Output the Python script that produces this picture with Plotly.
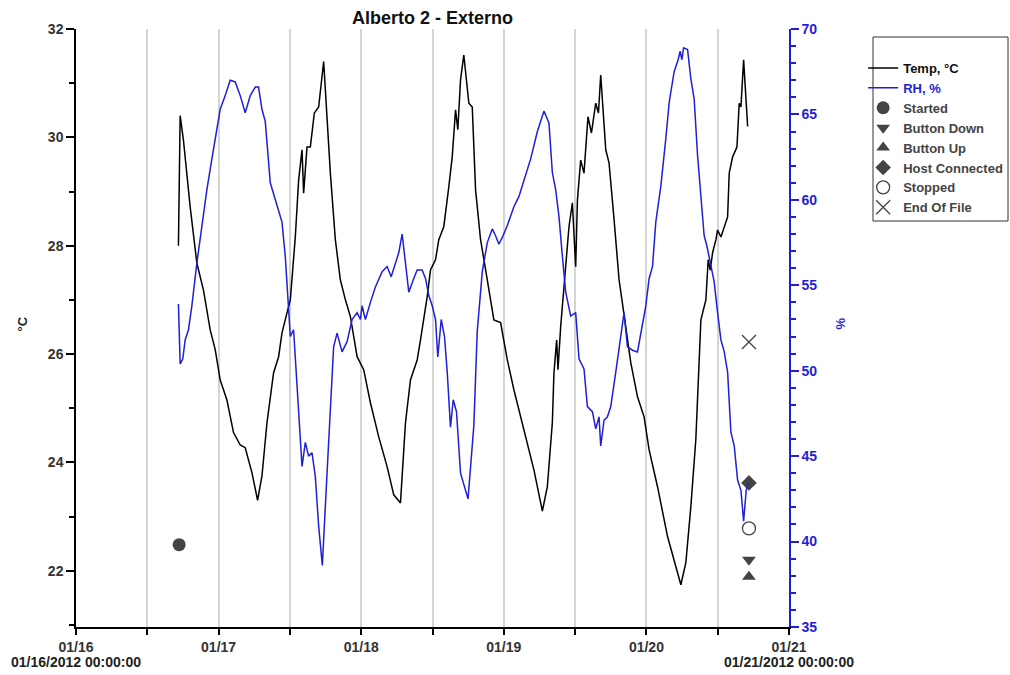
import pandas as pd
import plotly.graph_objects as go

# ---- data (hours after 01/16/2012 00:00) ----
temp_hours = [17.24, 17.53, 18.08, 19.21, 20.34, 21.45, 22.58, 23.43, 24.27, 25.40, 26.51, 27.64, 28.48,
              29.61, 30.56, 31.30, 32.14, 33.25, 34.10, 34.67, 35.51, 36.07, 36.91, 37.47, 38.04, 38.31,
              38.88, 39.44, 40.11, 40.84, 41.68, 42.25, 42.81, 43.65, 44.49, 45.34, 46.18, 47.31, 48.42,
              49.55, 50.95, 52.36, 53.48, 54.61, 55.45, 56.29, 57.42, 57.98, 59.11, 59.66, 60.51, 61.06,
              61.90, 62.75, 63.32, 63.88, 64.26, 64.72, 65.27, 66.12, 66.69, 67.25, 68.09, 69.22, 70.33,
              71.46, 72.59, 73.70, 75.39, 77.07, 78.49, 79.33, 80.17, 80.44, 80.90, 81.12, 81.57, 82.42,
              82.97, 83.54, 84.10, 84.39, 84.94, 85.50, 86.17, 86.75, 87.47, 87.93, 88.31, 89.16, 89.71,
              90.56, 91.40, 92.53, 93.37, 94.50, 95.61, 96.46, 97.87, 99.56, 100.67, 101.51, 101.80,
              102.64, 103.48, 104.32, 105.17, 106.01, 106.40, 106.74, 107.14, 107.70, 107.98, 108.54,
              109.10, 109.67, 109.94, 110.51, 111.24, 111.62, 111.91, 112.36, 113.04]
temp_values = [28.0, 30.4, 29.95, 28.72, 27.68, 27.18, 26.45, 26.08, 25.52, 25.15, 24.55, 24.32, 24.27,
               23.81, 23.30, 23.75, 24.73, 25.65, 25.95, 26.39, 26.76, 27.0, 28.16, 29.21, 29.77, 28.97,
               29.82, 29.82, 30.45, 30.56, 31.40, 30.27, 29.34, 28.11, 27.37, 27.0, 26.69, 25.95, 25.71,
               25.10, 24.47, 23.92, 23.40, 23.25, 24.73, 25.52, 25.89, 26.26, 27.06, 27.55, 27.74, 28.11,
               28.35, 29.09, 29.64, 30.51, 30.14, 31.06, 31.52, 30.63, 30.56, 29.03, 28.11, 27.37, 26.63,
               26.58, 25.89, 25.34, 24.60, 23.86, 23.10, 23.55, 24.73, 25.65, 26.26, 25.71, 26.50, 27.61,
               28.35, 28.79, 27.61, 28.84, 29.58, 29.34, 30.38, 30.08, 30.63, 30.45, 31.15, 29.77, 29.53,
               28.48, 27.37, 26.50, 25.84, 25.21, 24.84, 24.23, 23.55, 22.63, 22.20, 21.85, 21.74,
               22.15, 23.18, 24.42, 26.63, 27.0, 27.74, 27.55, 27.87, 28.11, 28.29, 28.16,
               28.35, 28.53, 29.34, 29.64, 29.82, 30.63, 30.56, 31.43, 30.20]

rh_hours = [17.24, 17.53, 17.98, 18.37, 18.93, 19.50, 20.34, 21.19, 22.03, 22.87, 23.71, 24.27, 25.11,
            25.95, 26.80, 27.64, 28.48, 29.33, 30.17, 30.72, 31.30, 31.85, 32.70, 33.83, 34.67, 35.22,
            35.78, 36.07, 36.62, 37.08, 37.47, 38.04, 38.60, 39.15, 39.72, 40.28, 40.84, 41.46, 42.25,
            42.81, 43.36, 43.94, 44.78, 45.62, 46.47, 47.31, 47.87, 48.15, 48.71, 49.55, 50.39, 51.52,
            52.36, 53.04, 53.76, 54.32, 54.89, 55.45, 56.01, 56.85, 57.42, 58.26, 58.82, 59.38, 59.95,
            60.51, 60.89, 61.47, 62.02, 62.48, 63.03, 63.49, 64.04, 64.72, 65.39, 65.98, 66.96, 67.53,
            68.38, 69.22, 70.06, 70.62, 71.17, 71.75, 72.59, 73.70, 74.55, 75.39, 76.52, 77.65, 78.76,
            79.60, 80.17, 80.73, 81.29, 81.86, 82.42, 83.26, 84.10, 84.66, 85.50, 86.07, 86.91, 87.47,
            88.03, 88.31, 88.87, 89.44, 90.00, 90.84, 91.68, 92.24, 92.81, 93.66, 94.50, 95.05, 95.90,
            96.46, 97.03, 97.58, 98.43, 99.27, 99.83, 100.67, 101.34, 101.68, 101.97, 102.25, 102.93,
            103.48, 104.04, 104.61, 105.17, 105.72, 106.18, 106.85, 107.41, 107.98, 108.54, 109.10,
            109.67, 110.22, 110.78, 111.35, 111.91, 112.36, 112.80, 113.09]
rh_values = [53.9, 50.4, 50.7, 51.8, 52.4, 53.8, 56.3, 58.5, 60.6, 62.4, 64.0, 65.3, 66.1,
             67.0, 66.9, 66.1, 65.1, 66.1, 66.6, 66.6, 65.3, 64.6, 61.0, 59.6, 58.7, 56.7,
             53.8, 52.0, 52.4, 49.7, 47.9, 44.4, 45.8, 45.0, 45.2, 43.8, 40.9, 38.6, 44.0,
             47.9, 51.4, 52.2, 51.1, 51.7, 53.0, 53.4, 53.0, 53.8, 53.0, 54.0, 54.9, 55.8,
             56.1, 55.5, 56.3, 56.9, 58.0, 56.3, 54.6, 55.4, 55.9, 55.9, 55.4, 54.4, 53.8,
             53.0, 50.8, 53.0, 52.0, 49.9, 46.7, 48.3, 47.6, 44.0, 43.2, 42.5, 46.8, 52.3,
             55.8, 57.5, 58.3, 57.9, 57.4, 57.8, 58.5, 59.6, 60.2, 61.2, 62.4, 64.0, 65.2,
             64.5, 61.6, 60.6, 59.0, 56.7, 54.6, 53.2, 53.4, 50.7, 50.1, 47.9, 47.6, 46.6,
             47.3, 45.6, 47.1, 47.3, 47.9, 49.9, 52.2, 53.4, 51.4, 51.2, 51.1, 52.2, 53.8,
             55.4, 56.1, 58.7, 60.8, 63.6, 65.7, 67.5, 68.2, 68.7, 68.2, 68.9, 68.8,
             67.1, 65.9, 62.6, 60.0, 57.9, 57.3, 56.1, 55.2, 53.4, 51.8, 51.1,
             49.9, 46.4, 45.6, 43.6, 43.0, 41.2, 43.0, 43.4]

event_names = ["Started", "Button Down", "Button Up", "Host Connected", "Stopped", "End Of File"]
event_hours = [17.36, 113.26, 113.26, 113.26, 113.26, 113.26]
event_temps = [22.48, 22.20, 21.89, 23.62, 22.78, 26.22]
event_symbols = ["circle", "triangle-down", "triangle-up", "diamond", "circle-open", "x-thin-open"]

x_tick_labels_bottom = ["01/16/2012 00:00:00", "01/21/2012 00:00:00"]

base = pd.Timestamp("2012-01-16 00:00:00")
def to_time(hours):
    return [base + pd.Timedelta(hours=h) for h in hours]

BLUE = "#1f1fd6"
GRAY = "#444444"
FONT = "Liberation Sans, Arial, sans-serif"

fig = go.Figure()
fig.add_trace(go.Scatter(x=to_time(temp_hours), y=temp_values, mode="lines",
                         line=dict(color="#000000", width=1.5),
                         name="<span style='color:#111111'>Temp, °C</span>", yaxis="y"))
fig.add_trace(go.Scatter(x=to_time(rh_hours), y=rh_values, mode="lines",
                         line=dict(color=BLUE, width=1.5),
                         name="<span style='color:%s'>RH, %%</span>" % BLUE, yaxis="y2"))
for nm, h, t, sym in zip(event_names, event_hours, event_temps, event_symbols):
    open_sym = sym.endswith("open")
    fig.add_trace(go.Scatter(
        x=to_time([h]), y=[t], mode="markers", name=nm, yaxis="y",
        marker=dict(symbol=sym, size=13 if sym in ("circle", "circle-open") else (14 if sym.startswith("x") else 12),
                    color=GRAY,
                    line=dict(color=GRAY, width=1.3 if open_sym else 0))))

fig.update_layout(
    width=1010, height=675,
    margin=dict(l=76, r=221, t=29, b=48, autoexpand=False),
    paper_bgcolor="white", plot_bgcolor="white",
    font=dict(family=FONT, size=14, color="#333333", weight="bold"),
    title=dict(text="Alberto 2 - Externo", x=(76 + 356.5) / 1010, xanchor="center",
               y=1 - 18 / 675, yanchor="middle",
               font=dict(size=18, color="#111111", weight="bold")),
    showlegend=True,
    legend=dict(x=1.104, xanchor="left", y=1 - (53 - 29) / 598, yanchor="top",
                bgcolor="rgba(0,0,0,0)", borderwidth=0, tracegroupgap=0,
                font=dict(size=13, color="#444444", weight="bold", family=FONT),
                itemwidth=30),
    xaxis=dict(type="date", range=[base, base + pd.Timedelta(days=5)],
               dtick=86400000, tickformat="%m/%d", tick0=base,
               showline=True, linecolor="#000000", linewidth=1.5,
               ticks="outside", ticklen=6, tickcolor="#000000", tickwidth=1.5,
               showgrid=True, gridcolor="#d4d4d4", gridwidth=1.5, zeroline=False,
               minor=dict(dtick=43200000, tick0=base, ticks="outside", ticklen=6, tickcolor="#000000",
                          tickwidth=1.5, showgrid=True, gridcolor="#d4d4d4", gridwidth=1.5),
               tickfont=dict(size=14, color="#333333", weight="bold")),
    yaxis=dict(range=[20.96, 32.0], dtick=2, tick0=0, showline=True, linecolor="#000000", linewidth=1.5,
               ticks="outside", ticklen=8, tickcolor="#000000", tickwidth=1.5,
               showgrid=False, zeroline=False,
               minor=dict(dtick=1, tick0=0, ticks="outside", ticklen=5, tickcolor="#000000", tickwidth=1.5),
               tickfont=dict(size=14, color="#333333", weight="bold")),
    yaxis2=dict(range=[35, 70], dtick=5, tick0=0, overlaying="y", side="right",
                showline=True, linecolor=BLUE, linewidth=1.5,
                ticks="outside", ticklen=8, tickcolor=BLUE, tickwidth=1.5,
                showgrid=False, zeroline=False,
                minor=dict(dtick=1, tick0=0, ticks="outside", ticklen=5, tickcolor=BLUE, tickwidth=1.5),
                tickfont=dict(size=14, color=BLUE, weight="bold")),
)

# axis titles
fig.add_annotation(text="°C", xref="paper", yref="paper", x=(12 - 76) / 713, y=1 - (324 - 29) / 598,
                   showarrow=False, textangle=-90, font=dict(size=13, color="#222222", weight="bold"))
fig.add_annotation(text="%", xref="paper", yref="paper", x=(849 - 76) / 713, y=1 - (324 - 29) / 598,
                   showarrow=False, textangle=-90, font=dict(size=13, color=BLUE, weight="bold"))
# full date labels under the axis ends
fig.add_annotation(text=x_tick_labels_bottom[0], xref="paper", yref="paper", x=0, y=-(662 - 627) / 598,
                   showarrow=False, xanchor="center", yanchor="middle",
                   font=dict(size=14, color="#222222", weight="bold"))
fig.add_annotation(text=x_tick_labels_bottom[1], xref="paper", yref="paper", x=1, y=-(662 - 627) / 598,
                   showarrow=False, xanchor="center", yanchor="middle",
                   font=dict(size=14, color="#222222", weight="bold"))
# legend frame
fig.add_shape(type="rect", xref="paper", yref="paper",
              x0=(873 - 76) / 713, x1=(1008 - 76) / 713,
              y0=1 - (221 - 29) / 598, y1=1 - (37 - 29) / 598,
              line=dict(color="#333333", width=1), fillcolor="rgba(0,0,0,0)", layer="above")

fig.write_html("out.html")
